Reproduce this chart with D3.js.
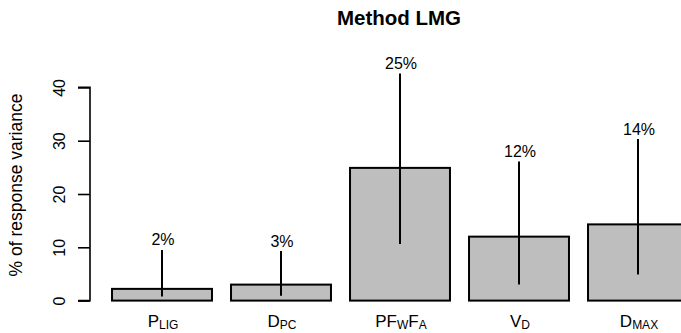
<!DOCTYPE html>
<html>
<head>
<meta charset="utf-8">
<script src="https://cdn.jsdelivr.net/npm/d3@7"></script>
<style>
  html, body { margin: 0; padding: 0; background: #fff; }
  svg { display: block; font-family: "Liberation Sans", Arial, Helvetica, sans-serif; }
</style>
</head>
<body>
<svg id="chart" width="681" height="333"></svg>
<script>
// ---- data ----
const categories = ["P_LIG", "D_PC", "PF_WF_A", "V_D", "D_MAX"];
// label parts: [text, isSubscript]
const labelParts = [
  [["P", false], ["LIG", true]],
  [["D", false], ["PC", true]],
  [["PF", false], ["W", true], ["F", false], ["A", true]],
  [["V", false], ["D", true]],
  [["D", false], ["MAX", true]]
];
const values = [2.2, 3.0, 24.9, 12.0, 14.3];
const lowerCI = [0.75, 0.9, 10.6, 3.0, 4.9];
const upperCI = [9.5, 9.3, 42.6, 26.1, 30.3];
const valueLabels = ["2%", "3%", "25%", "12%", "14%"];
const yTicks = [0, 10, 20, 30, 40];
const titleText = "Method LMG";
const yTitle = "% of response variance";

const svg = d3.select("#chart");

const x = d3.scaleBand()
  .domain(categories)
  .range([102.5, 697.5])
  .paddingInner(0.16)
  .paddingOuter(0.08);

const y = d3.scaleLinear().domain([0, 40]).range([300.6, 87.4]);

// title
svg.append("text")
  .attr("x", 399).attr("y", 25)
  .attr("text-anchor", "middle")
  .attr("font-weight", "bold")
  .attr("font-size", 20.5)
  .text(titleText);

// y axis
const yAxis = d3.axisLeft(y).tickValues(yTicks).tickSize(12).tickFormat(d3.format("d"));
const gy = svg.append("g").attr("transform", "translate(90,0)").call(yAxis);
gy.select(".domain").attr("d", `M-12,${y(0)}H0V${y(40)}H-12`).attr("stroke", "#000").attr("stroke-width", 1.6).attr("fill", "none");
gy.selectAll(".tick line").remove();
gy.selectAll(".tick").append("line").attr("x1", -12).attr("x2", 0).attr("stroke", "#000").attr("stroke-width", 1.6);
gy.selectAll(".tick text")
  .attr("x", null).attr("dy", null)
  .attr("transform", "translate(-25,0) rotate(-90)")
  .attr("text-anchor", "middle")
  .attr("font-size", 16)
  .attr("fill", "#000")
  .attr("font-family", "\"Liberation Sans\", Arial, sans-serif");

// y title
svg.append("text")
  .attr("transform", `translate(21.5,185) rotate(-90)`)
  .attr("text-anchor", "middle")
  .attr("font-size", 17.5)
  .text(yTitle);

// bars
svg.append("g").selectAll("rect")
  .data(categories)
  .join("rect")
  .attr("x", d => x(d))
  .attr("width", x.bandwidth())
  .attr("y", (d, i) => y(values[i]))
  .attr("height", (d, i) => y(0) - y(values[i]))
  .attr("fill", "#bebebe")
  .attr("stroke", "#000")
  .attr("stroke-width", 2);

// whiskers
svg.append("g").selectAll("line")
  .data(categories)
  .join("line")
  .attr("x1", d => x(d) + x.bandwidth() / 2)
  .attr("x2", d => x(d) + x.bandwidth() / 2)
  .attr("y1", (d, i) => y(lowerCI[i]))
  .attr("y2", (d, i) => y(upperCI[i]))
  .attr("stroke", "#000")
  .attr("stroke-width", 2);

// value labels
svg.append("g").selectAll("text")
  .data(categories)
  .join("text")
  .attr("x", d => x(d) + x.bandwidth() / 2 + 1)
  .attr("y", (d, i) => y(upperCI[i]) - 4.5)
  .attr("text-anchor", "middle")
  .attr("font-size", 16)
  .text((d, i) => valueLabels[i]);

// x labels
const xl = svg.append("g").selectAll("text")
  .data(categories)
  .join("text")
  .attr("x", d => x(d) + x.bandwidth() / 2 + 1)
  .attr("y", 327)
  .attr("text-anchor", "middle")
  .attr("font-size", 17);
xl.each(function(d, i) {
  const t = d3.select(this);
  labelParts[i].forEach(([s, sub]) => {
    t.append("tspan")
      .attr("font-size", sub ? 12 : 17)
      .attr("baseline-shift", sub ? "-1.5" : null)
      .text(s);
  });
});
</script>
</body>
</html>
